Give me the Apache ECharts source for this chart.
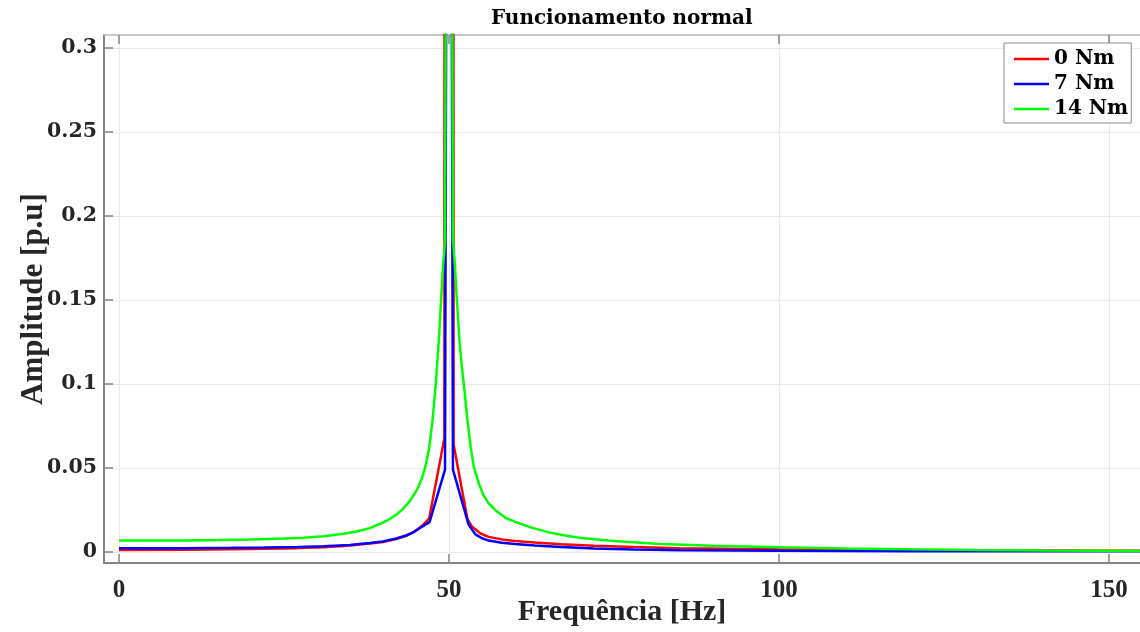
<!DOCTYPE html>
<html>
<head>
<meta charset="utf-8">
<script src="https://cdn.jsdelivr.net/npm/echarts@6/dist/echarts.min.js"></script>
<style>
html,body{margin:0;padding:0;background:#fff;}
#chart{width:1140px;height:632px;}
</style>
</head>
<body>
<div id="chart"></div>
<script>
// ---- data ----
const titleText = 'Funcionamento normal';
const xAxisName = 'Frequência [Hz]';
const yAxisName = 'Amplitude [p.u]';
const seriesNames = ['0 Nm', '7 Nm', '14 Nm'];
const xTickValues = [0, 50, 100, 150];
const yTickValues = [0, 0.05, 0.1, 0.15, 0.2, 0.25, 0.3];

// 0 Nm (red)
const freqRed = [0, 10, 17, 22, 27, 31, 35, 38, 40, 42, 43.5, 44.5, 45.5, 46.3, 47.0, 49.3, 49.4, 50, 50.6, 50.7, 52.8, 53.5, 54.8, 56, 58, 60, 63, 67, 72, 78, 85, 100, 120, 140, 155];
const ampRed  = [0.0012, 0.0013, 0.0016, 0.0019, 0.0023, 0.0028, 0.0039, 0.0050, 0.0060, 0.0077, 0.0096, 0.0115, 0.0142, 0.0170, 0.0200, 0.0675, 1.0, 1.0, 1.0, 0.0640, 0.0195, 0.0150, 0.0110, 0.0090, 0.0075, 0.0066, 0.0056, 0.0046, 0.0037, 0.0029, 0.0023, 0.0016, 0.0011, 0.0009, 0.0008];

// 7 Nm (blue)
const freqBlue = [0, 10, 17, 22, 27, 31, 35, 38, 40, 42, 43.5, 44.5, 45.5, 46.3, 47.05, 49.4, 50, 50.6, 52.95, 54, 55, 56, 58, 60, 63, 67, 72, 78, 85, 100, 120, 155];
const ampBlue  = [0.0022, 0.0023, 0.0025, 0.0027, 0.0030, 0.0034, 0.0042, 0.0053, 0.0063, 0.0080, 0.0098, 0.0115, 0.0140, 0.0160, 0.0178, 0.0490, 1.0, 0.0490, 0.0165, 0.0105, 0.0082, 0.0068, 0.0055, 0.0047, 0.0038, 0.0029, 0.0021, 0.0015, 0.0011, 0.0007, 0.0005, 0.0004];

// 14 Nm (green)
const freqGreen = [0, 5, 10, 15, 20, 25, 28, 31, 34, 36, 38, 40, 41, 42, 43, 44, 45, 45.5, 46, 46.5, 47, 47.5, 48, 48.5, 48.8, 49.1, 49.4, 50, 50.6, 50.9, 51.2, 51.6, 52, 52.3, 52.8, 53.3, 53.8, 54.5, 55.2, 56, 57, 58.5, 60, 62.5, 65, 68, 70, 75, 82, 90, 100, 110, 120, 130, 140, 155];
const ampGreen  = [0.0068, 0.0068, 0.0069, 0.0071, 0.0074, 0.0080, 0.0085, 0.0093, 0.0108, 0.0122, 0.0142, 0.0175, 0.0196, 0.0222, 0.0255, 0.0300, 0.0360, 0.0400, 0.0450, 0.0520, 0.0620, 0.0780, 0.1000, 0.1280, 0.1500, 0.1700, 0.1850, 1.0, 0.1870, 0.1700, 0.1500, 0.1250, 0.1080, 0.0980, 0.0780, 0.0620, 0.0500, 0.0410, 0.0340, 0.0290, 0.0250, 0.0205, 0.0180, 0.0145, 0.0118, 0.0095, 0.0083, 0.0065, 0.0048, 0.0037, 0.0028, 0.0021, 0.0016, 0.0012, 0.0009, 0.0006];

const seriesColors = ['#ff0000', '#0000ff', '#00ff00'];

function pairs(xs, ys) { return xs.map((x, i) => [x, ys[i]]); }

const chart = echarts.init(document.getElementById('chart'), null, {renderer: 'canvas'});

const gridLineColor = '#e9e9e9';
const axisColor = '#858585';
const serifTick = '"DejaVu Serif", serif';
const serifName = '"Liberation Serif", serif';

const XMIN = -2.27, XMAX = 154.7, YMIN = -0.00655, YMAX = 0.3076;

const option = {
  animation: false,
  backgroundColor: '#ffffff',
  title: {
    text: titleText,
    left: 486,
    top: 4,
    textStyle: {fontFamily: serifTick, fontWeight: 'bold', fontSize: 20, color: '#000'}
  },
  legend: {
    data: seriesNames.map(n => ({name: n, icon: 'rect'})),
    orient: 'vertical',
    left: 1004,
    top: 43,
    padding: [6, 3, 4, 10],
    itemGap: 5,
    itemWidth: 35,
    itemHeight: 2.5,
    backgroundColor: '#fff',
    borderColor: '#8a8a8a',
    borderWidth: 1,
    textStyle: {fontFamily: serifTick, fontWeight: 'bold', fontSize: 20, color: '#000'}
  },
  grid: {left: 104, top: 35, right: 0, bottom: 69, containLabel: false, outerBoundsMode: 'none'},
  xAxis: [{
    type: 'value',
    min: XMIN, max: XMAX,
    name: xAxisName,
    nameLocation: 'middle',
    nameGap: 34,
    nameMoveOverlap: false,
    nameTextStyle: {fontFamily: serifName, fontWeight: 'bold', fontSize: 30, color: '#262626'},
    axisLine: {show: true, onZero: false, lineStyle: {color: axisColor, width: 2}},
    axisTick: {show: true, inside: true, length: 9, customValues: xTickValues, lineStyle: {color: axisColor, width: 1.5}},
    axisLabel: {show: true, margin: 15, customValues: xTickValues, fontFamily: serifName, fontWeight: 'bold', fontSize: 25, color: '#262626',
                formatter: v => String(v)},
    splitLine: {show: true, lineStyle: {color: gridLineColor, width: 1}}
  }, {
    type: 'value',
    position: 'top',
    min: XMIN, max: XMAX,
    axisLine: {show: true, onZero: false, lineStyle: {color: '#b5b5b5', width: 1.5}},
    axisTick: {show: true, inside: true, length: 9, customValues: xTickValues, lineStyle: {color: axisColor, width: 1.5}},
    axisLabel: {show: false, customValues: xTickValues},
    splitLine: {show: false}
  }],
  yAxis: [{
    type: 'value',
    min: YMIN, max: YMAX,
    name: yAxisName,
    nameLocation: 'middle',
    nameGap: 55,
    nameMoveOverlap: false,
    nameTextStyle: {fontFamily: serifName, fontWeight: 'bold', fontSize: 31, color: '#262626'},
    axisLine: {show: true, onZero: false, lineStyle: {color: axisColor, width: 2}},
    axisTick: {show: true, inside: true, length: 9, customValues: yTickValues, lineStyle: {color: axisColor, width: 1.5}},
    axisLabel: {show: true, margin: 7, customValues: yTickValues, fontFamily: serifTick, fontWeight: 'bold', fontSize: 20.5, color: '#262626',
                padding: [6, 0, 0, 0],
                formatter: v => String(parseFloat(v.toFixed(2)))},
    splitLine: {show: true, lineStyle: {color: gridLineColor, width: 1}}
  }],
  series: seriesNames.map((name, i) => ({
    name: name,
    type: 'line',
    xAxisIndex: 0,
    yAxisIndex: 0,
    symbol: 'none',
    clip: true,
    color: seriesColors[i],
    lineStyle: {color: seriesColors[i], width: 2.5},
    data: pairs([freqRed, freqBlue, freqGreen][i], [ampRed, ampBlue, ampGreen][i])
  }))
};
chart.setOption(option);
</script>
</body>
</html>
